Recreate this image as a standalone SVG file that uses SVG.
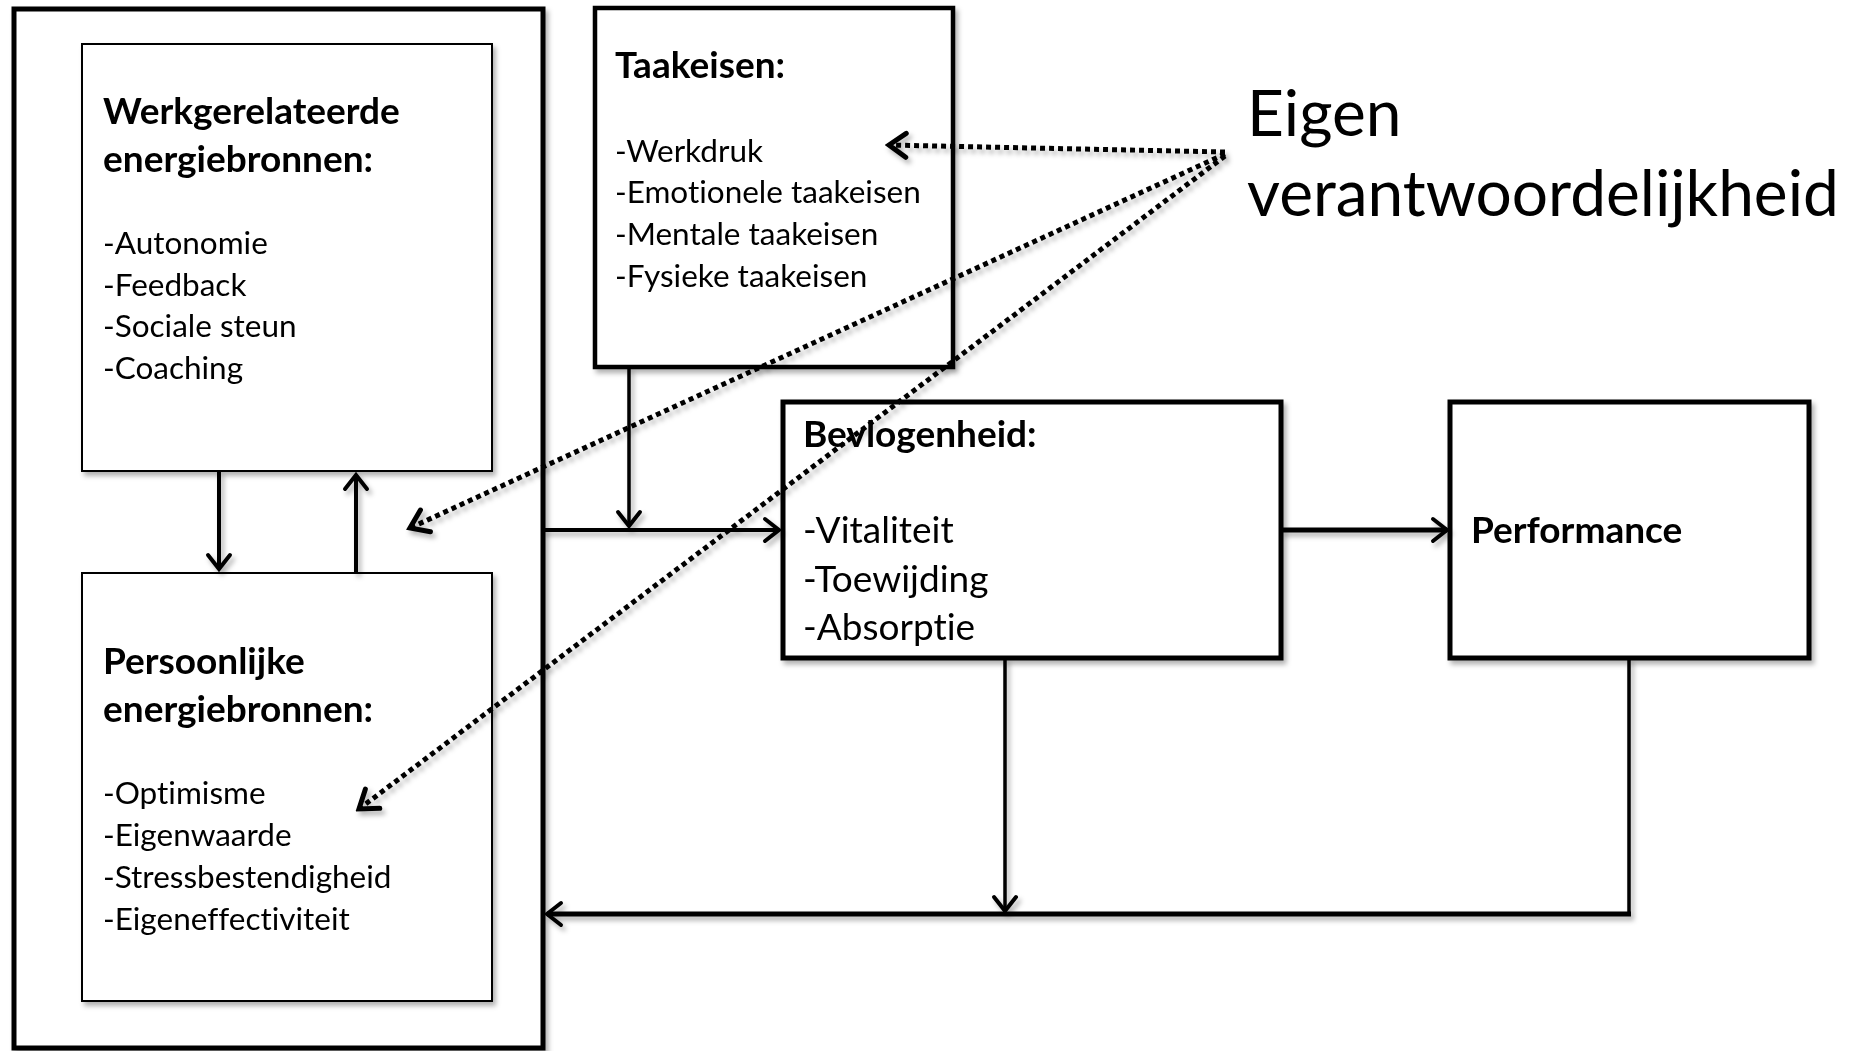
<svg xmlns="http://www.w3.org/2000/svg" width="1854" height="1051" viewBox="0 0 1854 1051">
<style>
  .t { font-family: Lato, "Open Sans", "Liberation Sans", sans-serif; fill: #000; font-variant-ligatures: none; }
  .h { font-weight: bold; font-size: 37px; }
  .i { font-size: 31.5px; }
  .big { font-size: 37px; }
  .eig { font-size: 64px; }
  .box { fill: #fff; stroke: #000; }
  .thin { stroke-width: 2; }
  .thick { stroke-width: 5; }
  .ln { fill: none; stroke: #000; }
  .dot { fill: none; stroke: #000; stroke-width: 5; stroke-dasharray: 5 4; }
  .sh { filter: url(#shadow); }
</style>
<defs>
  <filter id="shadow" x="-10%" y="-10%" width="130%" height="130%">
    <feDropShadow dx="3" dy="4" stdDeviation="2.5" flood-color="#000" flood-opacity="0.3"/>
  </filter>
  <marker id="arr" markerUnits="userSpaceOnUse" viewBox="-20 -14 24 28" refX="0" refY="0" markerWidth="24" markerHeight="28" orient="auto">
    <path d="M-14,-11 L0,0 L-14,11" fill="none" stroke="#000" stroke-width="4" stroke-linecap="round" stroke-linejoin="miter" stroke-dasharray="none"/>
  </marker>
  <marker id="arrd" markerUnits="userSpaceOnUse" viewBox="-24 -16 28 32" refX="0" refY="0" markerWidth="28" markerHeight="32" orient="auto">
    <path d="M-17,-12 L0,0 L-17,12" fill="none" stroke="#000" stroke-width="5" stroke-linecap="round" stroke-linejoin="miter" stroke-dasharray="none"/>
  </marker>
</defs>
<rect width="1854" height="1051" fill="#fff"/>

<g id="outer" class="sh">
  <rect class="box thick" x="14" y="9" width="529" height="1039"/>
</g>

<g id="werkgerelateerde" class="sh">
  <rect class="box thin" x="82" y="44" width="410" height="427"/>
  <text class="t h" x="103" y="124">Werkgerelateerde</text>
  <text class="t h" x="103" y="172">energiebronnen:</text>
  <text class="t i" x="103" y="254">-Autonomie</text>
  <text class="t i" x="103" y="296">-Feedback</text>
  <text class="t i" x="103" y="337">-Sociale steun</text>
  <text class="t i" x="103" y="379">-Coaching</text>
</g>

<g id="persoonlijke" class="sh">
  <rect class="box thin" x="82" y="573" width="410" height="428"/>
  <text class="t h" x="103" y="674">Persoonlijke</text>
  <text class="t h" x="103" y="722">energiebronnen:</text>
  <text class="t i" x="103" y="804">-Optimisme</text>
  <text class="t i" x="103" y="846">-Eigenwaarde</text>
  <text class="t i" x="103" y="888">-Stressbestendigheid</text>
  <text class="t i" x="103" y="930">-Eigeneffectiviteit</text>
</g>

<g id="taakeisen" class="sh">
  <rect class="box" stroke-width="4.5" x="595" y="8" width="358" height="359"/>
  <text class="t h" x="615" y="78">Taakeisen:</text>
  <text class="t i" x="615" y="162">-Werkdruk</text>
  <text class="t i" x="615" y="203">-Emotionele taakeisen</text>
  <text class="t i" x="615" y="245">-Mentale taakeisen</text>
  <text class="t i" x="615" y="287">-Fysieke taakeisen</text>
</g>

<g id="bevlogenheid" class="sh">
  <rect class="box thick" x="783" y="402" width="498" height="256"/>
  <text class="t h" x="803" y="447">Bevlogenheid:</text>
  <text class="t big" x="803" y="543">-Vitaliteit</text>
  <text class="t big" x="803" y="592">-Toewijding</text>
  <text class="t big" x="803" y="640">-Absorptie</text>
</g>

<g id="performance" class="sh">
  <rect class="box thick" x="1450" y="402" width="359" height="256"/>
  <text class="t h" x="1471" y="543">Performance</text>
</g>

<g id="eigen-verantwoordelijkheid">
  <text class="t eig" x="1247" y="136">Eigen</text>
  <text class="t eig" x="1247" y="216">verantwoordelijkheid</text>
</g>

<g id="connectors" class="sh">
  <path class="ln" stroke-width="4" d="M219,471 L219,569" marker-end="url(#arr)"/>
  <path class="ln" stroke-width="4" d="M356,573 L356,475" marker-end="url(#arr)"/>
  <path class="ln" stroke-width="4" d="M543,530 L779,530" marker-end="url(#arr)"/>
  <path class="ln" stroke-width="3.5" d="M629,367 L629,526" marker-end="url(#arr)"/>
  <path class="ln" stroke-width="5" d="M1281,530 L1447,530" marker-end="url(#arr)"/>
  <path class="ln" stroke-width="3.5" d="M1005,658 L1005,911" marker-end="url(#arr)"/>
  <path class="ln" stroke-width="3.5" d="M1629,658 L1629,914"/>
  <path class="ln" stroke-width="5" d="M1631,914 L547,914" marker-end="url(#arr)"/>
  <path class="dot" d="M1225,152 L889,145" marker-end="url(#arrd)"/>
  <path class="dot" d="M1225,154 L410,528" marker-end="url(#arrd)"/>
  <path class="dot" d="M1225,156 L359,809" marker-end="url(#arrd)"/>
</g>
</svg>
